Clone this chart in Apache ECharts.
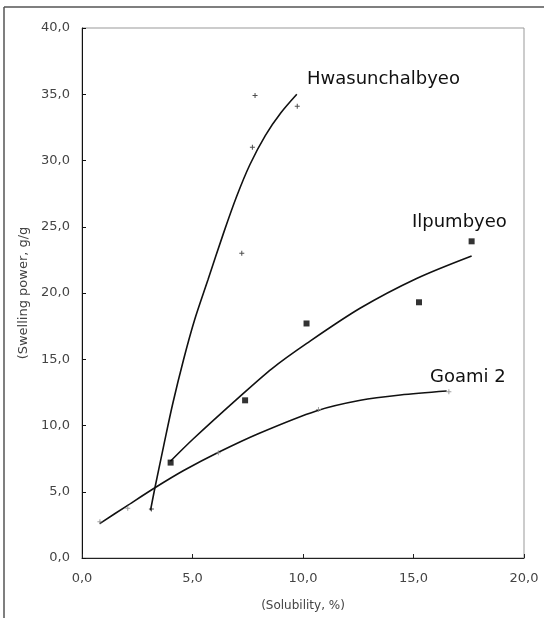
<!DOCTYPE html>
<html>
<head>
<meta charset="utf-8">
<script src="https://cdn.jsdelivr.net/npm/echarts@6/dist/echarts.min.js"></script>
<style>
    html, body { margin: 0; padding: 0; background: #fff; }
    #chart { width: 544px; height: 618px; }
</style>
</head>
<body>
<div id="chart"></div>
<script>
    // measured points (solubility %, swelling power g/g)
    var hwasunPoints = [[3.14, 3.7], [7.23, 23.0], [7.71, 31.0], [7.83, 34.9], [9.74, 34.1]];
    var ilpumPoints = [[4.01, 7.2], [7.38, 11.9], [10.16, 17.7], [15.25, 19.3], [17.63, 23.9]];
    var goamiPoints = [[0.81, 2.74], [2.07, 3.75], [6.17, 7.95], [10.7, 11.2], [16.6, 12.55]];

    // trend curves
    var hwasunCurve = [[3.1, 3.6], [3.3, 5.3], [3.7, 8.5], [4.1, 11.6], [4.6, 15.0], [5.1, 18.0],
        [5.7, 21.0], [6.4, 24.5], [7.0, 27.3], [7.6, 29.7], [8.3, 31.9], [9.0, 33.6], [9.72, 35.0]];
    var ilpumCurve = [[4.0, 7.3], [5.04, 9.0], [7.15, 12.2], [8.6, 14.3], [10.17, 16.2],
        [12.58, 18.85], [15.14, 21.1], [17.63, 22.8]];
    var goamiCurve = [[0.8, 2.6], [2.0, 3.9], [3.3, 5.3], [4.6, 6.6], [6.2, 8.0], [8.0, 9.4],
        [10.6, 11.1], [12.6, 11.9], [14.4, 12.3], [16.5, 12.6]];

    var seriesNames = ['Hwasunchalbyeo', 'Ilpumbyeo', 'Goami 2'];
    var labelAnchors = [[10.18, 36.1], [14.93, 25.3], [15.75, 13.6]];

    var plusSymbol = 'path://M4,0H6V10H4Z M0,4H10V6H0Z';
    var font = 'DejaVu Sans';

    function fmt(v) {
        return v.toFixed(1).replace('.', ',');
    }

    function curve(data) {
        return {
            type: 'line',
            data: data,
            smooth: 0.3,
            showSymbol: false,
            silent: true,
            lineStyle: { color: '#111', width: 1.6 },
            z: 2
        };
    }

    var chart = echarts.init(document.getElementById('chart'));

    chart.setOption({
        backgroundColor: '#fff',
        animation: false,
        grid: {
            left: 82,
            top: 28,
            right: 20,
            bottom: 60,
            show: true,
            borderColor: '#999',
            borderWidth: 1
        },
        xAxis: {
            type: 'value',
            min: 0,
            max: 20,
            interval: 5,
            name: '(Solubility, %)',
            nameLocation: 'middle',
            nameGap: 42,
            nameTextStyle: { fontFamily: font, fontSize: 12, color: '#444' },
            axisLine: { lineStyle: { color: '#222', width: 1 } },
            axisTick: { inside: true, length: 4, lineStyle: { color: '#222' } },
            axisLabel: { margin: 14, fontFamily: font, fontSize: 13, color: '#444', formatter: fmt },
            splitLine: { show: false }
        },
        yAxis: {
            type: 'value',
            min: 0,
            max: 40,
            interval: 5,
            name: '(Swelling power, g/g',
            nameLocation: 'middle',
            nameGap: 51,
            nameRotate: 90,
            nameTextStyle: { fontFamily: font, fontSize: 13, color: '#444' },
            axisLine: { show: true, lineStyle: { color: '#111', width: 1 } },
            axisTick: { show: true, inside: true, length: 4, lineStyle: { color: '#111' } },
            axisLabel: { margin: 12, fontFamily: font, fontSize: 13, color: '#444', formatter: fmt },
            splitLine: { show: false }
        },
        series: [
            curve(hwasunCurve),
            curve(ilpumCurve),
            curve(goamiCurve),
            {
                type: 'scatter',
                data: hwasunPoints,
                symbol: plusSymbol,
                symbolSize: 5,
                itemStyle: { color: '#222' },
                z: 3
            },
            {
                type: 'scatter',
                data: ilpumPoints,
                symbol: 'rect',
                symbolSize: 6,
                itemStyle: { color: '#000' },
                z: 3
            },
            {
                type: 'scatter',
                data: goamiPoints,
                symbol: plusSymbol,
                symbolSize: 5,
                itemStyle: { color: '#888' },
                z: 3
            }
        ]
    });

    // curve names and the outer frame
    var graphics = [
        { type: 'line', shape: { x1: 4, y1: 7, x2: 544, y2: 7 }, style: { stroke: '#555', lineWidth: 1.5 } },
        { type: 'line', shape: { x1: 4, y1: 7, x2: 4, y2: 618 }, style: { stroke: '#555', lineWidth: 1.5 } }
    ];
    seriesNames.forEach(function (name, i) {
        var p = chart.convertToPixel({ gridIndex: 0 }, labelAnchors[i]);
        graphics.push({
            type: 'text',
            x: p[0],
            y: p[1],
            style: {
                text: name,
                fontFamily: font,
                fontSize: 18,
                fill: '#111',
                textAlign: 'left',
                textVerticalAlign: 'middle'
            }
        });
    });
    chart.setOption({ graphic: graphics });
</script>
</body>
</html>
